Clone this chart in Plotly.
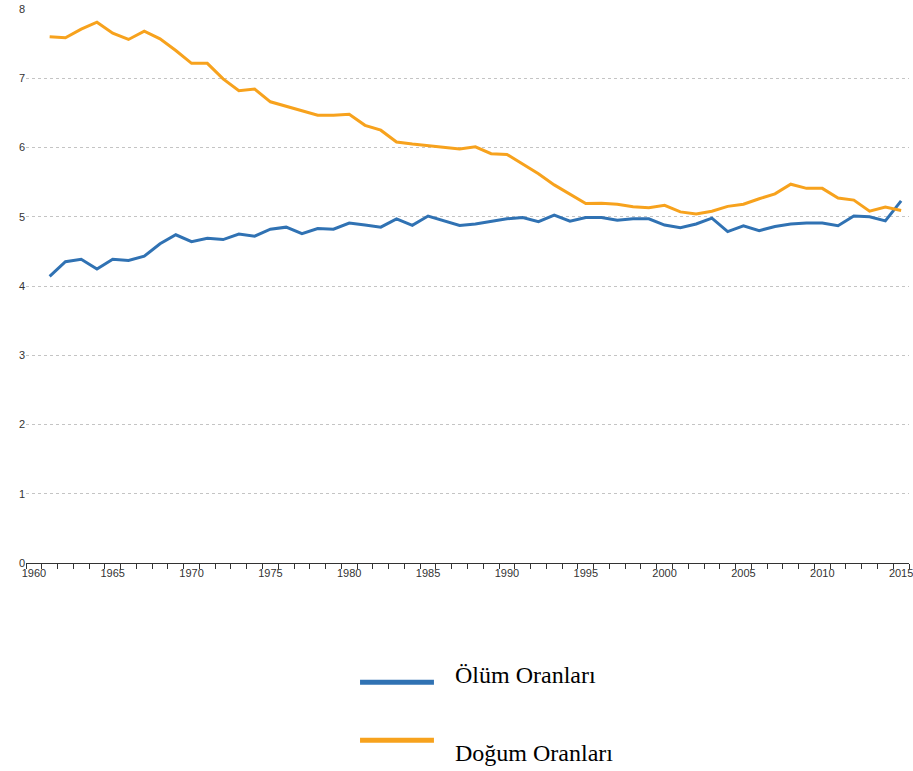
import plotly.graph_objects as go

years = list(range(1961, 2016))

olum = [4.14, 4.35, 4.385, 4.245, 4.385, 4.37, 4.43, 4.61, 4.74, 4.64,
        4.69, 4.67, 4.75, 4.72, 4.82, 4.85, 4.755, 4.83, 4.82, 4.91,
        4.88, 4.85, 4.97, 4.875, 5.01, 4.94, 4.875, 4.895, 4.93, 4.97,
        4.99, 4.93, 5.025, 4.935, 4.99, 4.99, 4.95, 4.97, 4.97, 4.88,
        4.84, 4.895, 4.98, 4.785, 4.87, 4.80, 4.86, 4.895, 4.91, 4.91,
        4.87, 5.01, 5.00, 4.94, 5.23]

dogum = [7.60, 7.585, 7.71, 7.81, 7.65, 7.56, 7.68, 7.57, 7.40, 7.215,
         7.215, 6.99, 6.82, 6.845, 6.66, 6.60, 6.53, 6.465, 6.465, 6.48,
         6.32, 6.25, 6.08, 6.05, 6.026, 6.01, 5.98, 6.01, 5.91, 5.90,
         5.76, 5.62, 5.46, 5.32, 5.19, 5.195, 5.18, 5.145, 5.13, 5.165,
         5.07, 5.04, 5.08, 5.15, 5.18, 5.26, 5.33, 5.47, 5.41, 5.41,
         5.27, 5.24, 5.08, 5.14, 5.09]

x_ticks = list(range(1960, 2016, 5))
y_ticks = list(range(0, 9))
legend_names = ["Ölüm Oranları", "Doğum Oranları"]
colors = ["#3072B3", "#F7A21D"]

fig = go.Figure()
fig.add_trace(go.Scatter(x=years, y=olum, mode="lines", name=legend_names[0],
                         line=dict(color=colors[0], width=3), showlegend=False))
fig.add_trace(go.Scatter(x=years, y=dogum, mode="lines", name=legend_names[1],
                         line=dict(color=colors[1], width=3), showlegend=False))

# custom legend
leg_y = [-0.2153, -0.3200]
txt_y = [-0.203, -0.343]
for i in range(2):
    fig.add_shape(type="line", xref="paper", yref="paper",
                  x0=0.3783, x1=0.4620, y0=leg_y[i], y1=leg_y[i],
                  line=dict(color=colors[i], width=5))
    fig.add_annotation(xref="paper", yref="paper", x=0.4835, y=txt_y[i],
                       xanchor="left", yanchor="middle", showarrow=False,
                       text=legend_names[i],
                       font=dict(family="Liberation Serif, Times New Roman, serif",
                                 size=24, color="#000000"))

fig.update_layout(
    width=913, height=771,
    margin=dict(l=26, r=4, t=9, b=208, autoexpand=False),
    paper_bgcolor="white", plot_bgcolor="white",
    font=dict(family="Liberation Sans Narrow, Liberation Sans, Arial", size=11, color="#333333"),
    xaxis=dict(range=[1959.5, 2015.5], tickmode="array", tickvals=x_ticks,
               ticks="", showgrid=False, zeroline=False, automargin=False,
               ticklabeloverflow="allow",
               showline=True, linecolor="#333333", linewidth=1,
               minor=dict(tick0=1959.5, dtick=1, ticks="outside", ticklen=5,
                          tickcolor="#333333", tickwidth=1, showgrid=False),
               tickfont=dict(size=11, color="#333333")),
    yaxis=dict(range=[0, 8], tickmode="array", tickvals=y_ticks, ticks="",
               showgrid=True, gridcolor="#c4c4c4", griddash="dot", gridwidth=1,
               zeroline=False, showline=False, automargin=False,
               tickfont=dict(size=11, color="#333333")),
)

fig.write_html("out.html", config={"displayModeBar": False},
               post_script="document.body.style.margin='0';document.body.style.overflow='hidden';")
